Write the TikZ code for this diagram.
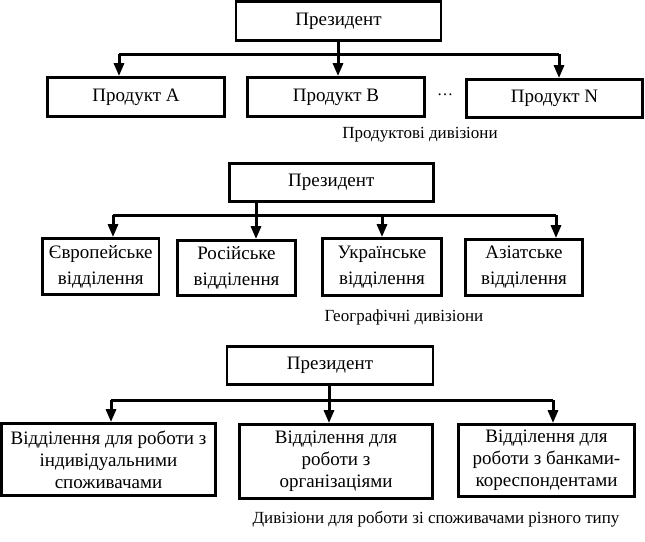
\documentclass[tikz,border=0pt]{standalone}
\usepackage{fontspec}
\setmainfont{Liberation Serif}
\usetikzlibrary{arrows.meta}
\tikzset{
  x=1pt,y=-1pt,
  box/.style={draw, line width=2.8pt, align=center, inner sep=0pt, font=\fontsize{19}{22}\selectfont},
  twoline/.style={font=\fontsize{19}{26}\selectfont},
  bus/.style={line width=3pt},
  arr/.style={line width=3pt, -{Triangle[width=10pt,length=13pt]}},
  captext/.style={inner sep=0pt, font=\fontsize{17}{20}\selectfont},
}
\begin{document}
\begin{tikzpicture}
\useasboundingbox (0,0) rectangle (645,541);
% ---------- Section 1
\node[box, minimum width=205pt, minimum height=39pt] (p1) at (338.5,21) {Президент};
\node[box, minimum width=177pt, minimum height=39pt] (a1) at (136,97) {Продукт A};
\node[box, minimum width=177pt, minimum height=39pt] (b1) at (336,97) {Продукт B};
\node[box, minimum width=176pt, minimum height=38pt] (n1) at (554.5,98.5) {Продукт N};
\node[inner sep=0pt, font=\fontsize{16}{18}\selectfont] (dots) at (445,95) {\dots};
\node[captext] (c1) at (420,135) {Продуктові дивізіони};
\coordinate (l1) at (119,54);
\coordinate (j1) at (338,54);
\coordinate (r1) at (559,54);
\draw[bus] (p1.south -| j1) -- (j1);
\draw[bus] (l1) -- (r1);
\draw[arr] (l1) -- (l1 |- a1.north);
\draw[arr] (j1) -- (j1 |- b1.north);
\draw[arr] (r1) -- (r1 |- n1.north);
% ---------- Section 2
\node[box, minimum width=204pt, minimum height=38pt] (p2) at (331.3,182.4) {Президент};
\node[box, twoline, minimum width=116.5pt, minimum height=56pt] (e2) at (100.75,266.5) {Європейське\\відділення};
\node[box, twoline, minimum width=118pt, minimum height=55pt] (r2) at (236.5,268) {Російське\\відділення};
\node[box, twoline, minimum width=119pt, minimum height=57pt] (u2) at (382,267) {Українське\\відділення};
\node[box, twoline, minimum width=117pt, minimum height=56pt] (z2) at (524,267.5) {Азіатське\\відділення};
\node[captext] (c2) at (404,317) {Географічні дивізіони};
\coordinate (l2) at (113,215);
\coordinate (j2) at (256,215);
\coordinate (m2) at (382,215);
\coordinate (r2c) at (556,215);
\draw[bus] (p2.south -| j2) -- (j2);
\draw[bus] (l2) -- (r2c);
\draw[arr] (l2) -- (l2 |- e2.north);
\draw[arr] (j2) -- (j2 |- r2.north);
\draw[arr] (m2) -- (m2 |- u2.north);
\draw[arr] (r2c) -- (r2c |- z2.north);
% ---------- Section 3
\node[box, minimum width=206pt, minimum height=38pt] (p3) at (330,365.5) {Президент};
\node[box, minimum width=214pt, minimum height=72pt] (a3) at (108.5,459.5) {Відділення для роботи з\\індивідуальними\\споживачами};
\node[box, minimum width=193pt, minimum height=74pt] (b3) at (336,461.5) {Відділення для\\роботи з\\організаціями};
\node[box, minimum width=176pt, minimum height=72pt] (d3) at (546.5,460.5) {Відділення для\\роботи з банками-\\кореспондентами};
\node[captext] (c3) at (436,519) {Дивізіони для роботи зі споживачами різного типу};
\coordinate (l3) at (111,400);
\coordinate (j3) at (329,400);
\coordinate (r3) at (553,400);
\draw[bus] (p3.south -| j3) -- (j3);
\draw[bus] (l3) -- (r3);
\draw[arr] (l3) -- (l3 |- a3.north);
\draw[arr] (j3) -- (j3 |- b3.north);
\draw[arr] (r3) -- (r3 |- d3.north);
\end{tikzpicture}
\end{document}
